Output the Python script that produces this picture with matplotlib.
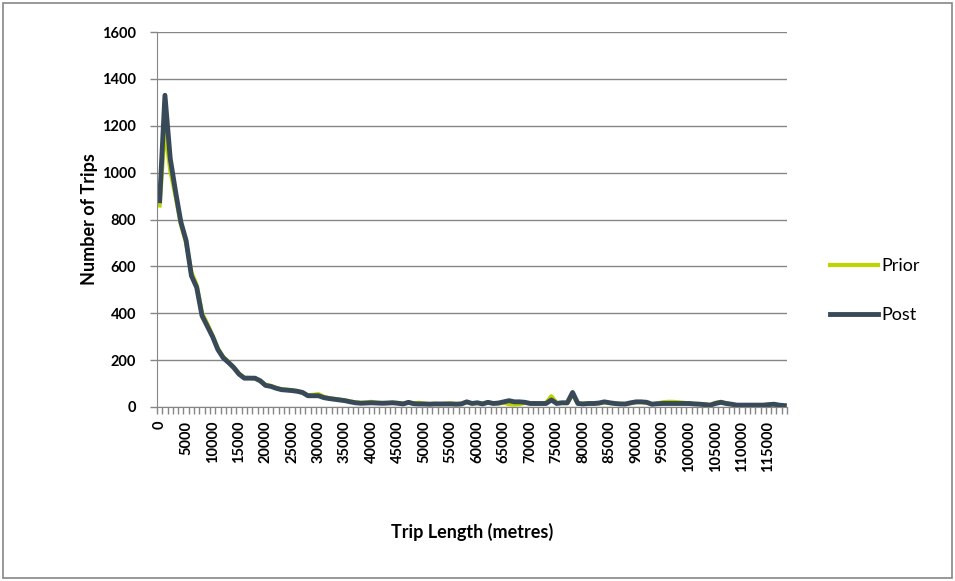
import matplotlib.pyplot as plt
import numpy as np
from matplotlib.patches import Rectangle

plt.rcParams["font.family"] = ["Lato", "DejaVu Sans"]

# trip length categories, one every 1000 m
trip_length = np.arange(0, 119000, 1000)

post = [
    880, 1330, 1060, 920, 790, 710, 560, 510, 390, 345,
    300, 245, 210, 190, 168, 140, 123, 123, 123, 112,
    92, 88, 80, 74, 72, 70, 67, 62, 48, 48,
    48, 40, 36, 33, 30, 27, 22, 18, 16, 17,
    18, 17, 16, 17, 18, 16, 13, 20, 14, 13,
    13, 12, 13, 13, 13, 13, 12, 13, 22, 15,
    18, 13, 20, 15, 17, 22, 27, 22, 22, 20,
    15, 15, 15, 15, 30, 15, 18, 18, 62, 15,
    13, 15, 15, 17, 22, 18, 15, 13, 13, 18,
    22, 22, 20, 12, 14, 15, 15, 15, 15, 15,
    15, 13, 12, 10, 8, 15, 20, 15, 12, 8,
    8, 8, 8, 8, 8, 10, 12, 8, 6,
]

prior = [
    860, 1190, 1010, 900, 780, 700, 575, 520, 400, 355,
    305, 250, 215, 192, 170, 143, 125, 124, 122, 110,
    95, 90, 82, 76, 74, 72, 68, 60, 50, 52,
    55, 44, 38, 35, 32, 28, 24, 20, 18, 19,
    22, 18, 17, 16, 19, 17, 15, 18, 16, 18,
    14, 13, 14, 12, 14, 15, 13, 14, 20, 16,
    17, 14, 19, 16, 15, 18, 12, 10, 12, 18,
    16, 15, 14, 18, 46, 17, 17, 16, 55, 14,
    14, 16, 14, 16, 20, 17, 14, 14, 12, 17,
    20, 21, 18, 12, 15, 20, 22, 22, 20, 18,
    15, 14, 13, 11, 9, 18, 22, 16, 11, 8,
    8, 7, 8, 8, 7, 10, 11, 8, 6,
]

grey = "#868686"
x = np.arange(len(trip_length))

fig = plt.figure(figsize=(9.55, 5.81), dpi=100)
ax = fig.add_axes([157 / 955, 1 - 407 / 581, 630 / 955, 375 / 581])

ax.plot(x, prior, color="#BCD400", lw=3.0, label="Prior", solid_joinstyle="round")
ax.plot(x, post, color="#384A59", lw=3.5, label="Post", solid_joinstyle="round")

ax.set_xlim(-0.5, len(x) - 0.5)
ax.set_ylim(0, 1600)
ax.set_yticks(np.arange(0, 1601, 200))
ax.yaxis.grid(True, color=grey, lw=1.0)
ax.set_axisbelow(True)

# labels on every fifth category, tick marks between all categories
ax.set_xticks(x[::5])
ax.set_xticklabels([str(v) for v in trip_length[::5]], rotation=90, va="top")
ax.set_xticks(np.arange(-0.5, len(x)), minor=True)
ax.tick_params(axis="x", which="major", length=0, pad=10)
ax.tick_params(axis="x", which="minor", length=5, color=grey, width=1)
ax.tick_params(axis="y", length=5, color=grey, width=1, pad=10)

for lbl in ax.get_xticklabels() + ax.get_yticklabels():
    lbl.set_fontweight("bold")
    lbl.set_fontsize(10.5)

for side in ["top", "right"]:
    ax.spines[side].set_visible(False)
ax.spines["left"].set_color(grey)
ax.spines["bottom"].set_color(grey)

ax.set_ylabel("Number of Trips", fontsize=13, fontweight="bold")
ax.set_xlabel("Trip Length (metres)", fontsize=13, fontweight="bold")
ax.yaxis.set_label_coords(-0.093, 0.5)
ax.xaxis.set_label_coords(0.5, -0.31)

ax.legend(
    loc="center left",
    bbox_to_anchor=(1.042, 0.31),
    frameon=False,
    fontsize=13,
    handlelength=2.7,
    handletextpad=0.15,
    labelspacing=1.85,
)

# chart frame
fig.patches.append(
    Rectangle((3 / 955, 3 / 581), 949 / 955, 575 / 581, transform=fig.transFigure,
              fill=False, edgecolor=grey, lw=1.2)
)

fig.savefig("out.png", dpi=100)
